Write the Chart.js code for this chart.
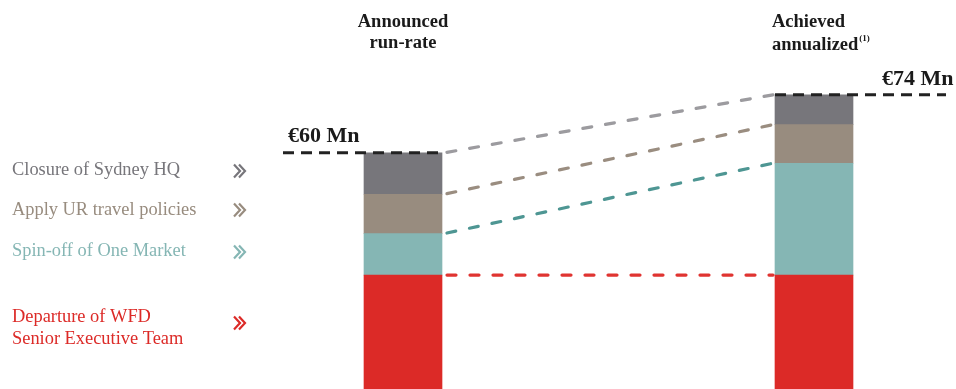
<!DOCTYPE html>
<html>
<head>
<meta charset="utf-8">
<script src="https://cdn.jsdelivr.net/npm/chart.js@4/dist/chart.umd.min.js"></script>
<style>
    html, body { margin: 0; padding: 0; background: #ffffff; }
    #wrap { width: 956px; height: 389px; position: relative; }
</style>
</head>
<body>
<div id="wrap"><canvas id="savingsChart"></canvas></div>
<script>
const stages = ["Announced run-rate", "Achieved annualized"];
const stageTotals = [60, 74];

const departureWfd = [30.5, 30.5];
const spinOffOneMarket = [10, 27];
const urTravelPolicies = [9.5, 9.3];
const closureSydneyHq = [10, 7.2];

const FONT = "'Liberation Serif', 'Times New Roman', serif";

// bottom to top, in stacking order
const segments = [
    { label: "Departure of WFD", data: departureWfd, color: "#DC2A27", line: "#E03431",
      text: ["Departure of WFD", "Senior Executive Team"], textY: [317, 339], chevronY: 323 },
    { label: "Spin-off of One Market", data: spinOffOneMarket, color: "#85B6B4", line: "#4E9693",
      text: ["Spin-off of One Market"], textY: [251], chevronY: 252 },
    { label: "Apply UR travel policies", data: urTravelPolicies, color: "#988C7F", line: "#9A8D80",
      text: ["Apply UR travel policies"], textY: [210], chevronY: 210 },
    { label: "Closure of Sydney HQ", data: closureSydneyHq, color: "#77767B", line: "#9C9B9F",
      text: ["Closure of Sydney HQ"], textY: [170], chevronY: 171 },
];

function drawChevron(ctx, x, y, color) {
    ctx.save();
    ctx.strokeStyle = color;
    ctx.lineWidth = 2.2;
    [0, 5].forEach((dx) => {
        ctx.beginPath();
        ctx.moveTo(x + dx, y - 6.5);
        ctx.lineTo(x + dx + 6, y);
        ctx.lineTo(x + dx, y + 6.5);
        ctx.stroke();
    });
    ctx.restore();
}

const overlayPlugin = {
    id: "overlay",
    afterDatasetsDraw(chart) {
        const ctx = chart.ctx;
        const y = chart.scales.y;

        // connectors between the top of each stacked segment
        let cum = [0, 0];
        segments.forEach((seg, i) => {
            cum = cum.map((c, j) => c + seg.data[j]);
            const barA = chart.getDatasetMeta(i).data[0];
            const barB = chart.getDatasetMeta(i).data[1];
            ctx.save();
            ctx.strokeStyle = seg.line;
            ctx.lineWidth = 3.2;
            ctx.lineCap = "round";
            ctx.setLineDash([9, 14]);
            ctx.lineDashOffset = -3;
            ctx.beginPath();
            ctx.moveTo(barA.x + barA.width / 2 + 2, y.getPixelForValue(cum[0]));
            ctx.lineTo(barB.x - barB.width / 2 - 2, y.getPixelForValue(cum[1]));
            ctx.stroke();
            ctx.restore();
        });

        // total markers
        const barA = chart.getDatasetMeta(3).data[0];
        const barB = chart.getDatasetMeta(3).data[1];
        const yA = y.getPixelForValue(stageTotals[0]);
        const yB = y.getPixelForValue(stageTotals[1]);
        ctx.save();
        ctx.strokeStyle = "#222222";
        ctx.lineWidth = 3;
        ctx.setLineDash([11, 7]);
        ctx.beginPath();
        ctx.moveTo(283, yA);
        ctx.lineTo(barA.x + barA.width / 2, yA);
        ctx.moveTo(barB.x - barB.width / 2, yB);
        ctx.lineTo(946, yB);
        ctx.stroke();
        ctx.restore();

        ctx.save();
        ctx.fillStyle = "#1a1a1a";
        ctx.textBaseline = "middle";
        ctx.font = "bold 22px " + FONT;
        ctx.textAlign = "left";
        ctx.fillText("€" + stageTotals[0] + " Mn", 288, yA - 17);
        ctx.fillText("€" + stageTotals[1] + " Mn", 882, yB - 16);

        // column headers
        ctx.font = "bold 18.5px " + FONT;
        ctx.textAlign = "center";
        ctx.fillText("Announced", barA.x, 22);
        ctx.fillText("run-rate", barA.x, 43);
        ctx.textAlign = "left";
        ctx.fillText("Achieved", 772, 22);
        ctx.fillText("annualized", 772, 45);
        const w = ctx.measureText("annualized").width;
        ctx.font = "bold 9px " + FONT;
        ctx.fillText("(1)", 772 + w + 1, 39);

        // category labels on the left
        ctx.font = "18.4px " + FONT;
        segments.forEach((seg) => {
            ctx.fillStyle = seg.color;
            seg.text.forEach((t, k) => ctx.fillText(t, 12, seg.textY[k]));
            drawChevron(ctx, 234, seg.chevronY, seg.color);
        });
        ctx.restore();
    },
};

new Chart(document.getElementById("savingsChart"), {
    type: "bar",
    data: {
        labels: stages,
        datasets: segments.map((seg) => ({
            label: seg.label,
            data: seg.data,
            backgroundColor: seg.color,
            borderWidth: 0,
            barThickness: 78,
            clip: false,
        })),
    },
    options: {
        responsive: true,
        maintainAspectRatio: false,
        animation: false,
        layout: { padding: { left: 403, right: 142, top: 70, bottom: 0 } },
        plugins: { legend: { display: false }, tooltip: { enabled: false } },
        scales: {
            x: { stacked: true, offset: false, display: false },
            y: { stacked: true, min: 3, max: 80, display: false },
        },
    },
    plugins: [overlayPlugin],
});
</script>
</body>
</html>
